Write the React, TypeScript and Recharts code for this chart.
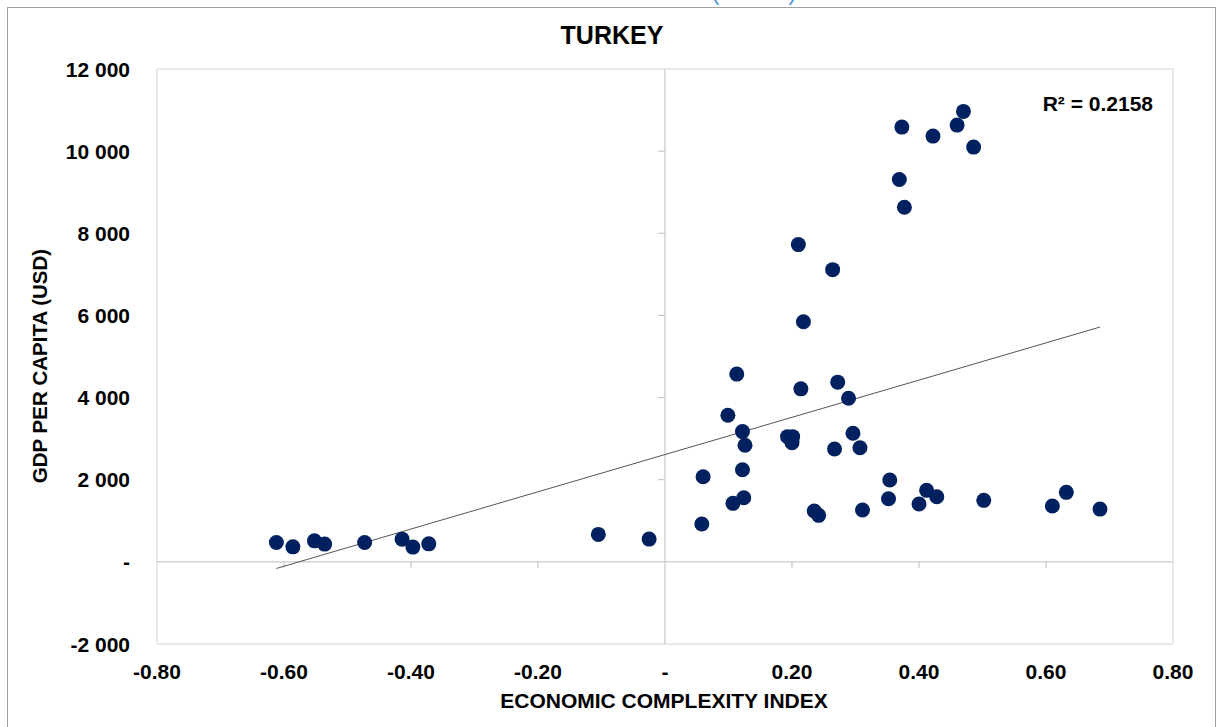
import {
  ReferenceArea,
  ReferenceLine,
  Scatter,
  ScatterChart,
  XAxis,
  YAxis,
} from "recharts";

const ECI = [
  -0.612, -0.586, -0.552, -0.536, -0.473, -0.414, -0.397, -0.372, -0.105, -0.025,
  0.113, 0.099, 0.122, 0.126, 0.122, 0.06, 0.124, 0.107, 0.058,
  0.214, 0.272, 0.289, 0.193, 0.201, 0.2, 0.296, 0.267, 0.307,
  0.235, 0.242, 0.311, 0.354, 0.352, 0.4, 0.412, 0.428, 0.502, 0.61, 0.632, 0.685,
  0.373, 0.422, 0.46, 0.47, 0.486, 0.369, 0.377,
  0.21, 0.264, 0.218,
];

const GDP = [
  473, 366, 512, 432, 473, 553, 359, 439, 668, 554,
  4571, 3571, 3171, 2839, 2244, 2073, 1561, 1424, 920,
  4212, 4376, 3985, 3049, 3049, 2902, 3132, 2749, 2780,
  1237, 1132, 1261, 1993, 1537, 1407, 1741, 1585, 1498, 1359, 1693, 1285,
  10585, 10366, 10634, 10968, 10098, 9310, 8634,
  7724, 7115, 5846,
];

// trend line endpoints
const TREND_X = [-0.612, 0.685];
const TREND_Y = [-161, 5717];

const X_TICKS = [-0.8, -0.6, -0.4, -0.2, 0, 0.2, 0.4, 0.6, 0.8];
const Y_TICKS = [-2000, 0, 2000, 4000, 6000, 8000, 10000, 12000];

const W = 1222;
const H = 727;
const MARGIN = { top: 69, right: 49, bottom: 0, left: 0 };
const Y_AXIS_W = 157;
const X_AXIS_H = 83;
const PLOT_W = W - MARGIN.right - Y_AXIS_W;
const PLOT_H = H - MARGIN.top - X_AXIS_H;
const FONT = "'Liberation Sans', Arial, sans-serif";
const DOT = "#00215f";

// small tick marks sitting on the zero lines (px converted to data units)
const TICK_X_LEN = (1.6 / PLOT_W) * 7;
const TICK_Y_LEN = (14000 / PLOT_H) * 6;

const points = ECI.map((x, i) => ({ x, y: GDP[i] }));

const fmtX = (v: number) => (v === 0 ? "-" : v.toFixed(2));
const fmtY = (v: number) =>
  v === 0 ? "-" : (v < 0 ? "-" : "") + Math.abs(v).toLocaleString("en-US").replace(",", " ");

function XTick({ x, y, payload }: any) {
  return (
    <text x={x} y={y + 35} textAnchor="middle" fontFamily={FONT} fontWeight="bold" fontSize={21} fill="#000">
      {fmtX(payload.value)}
    </text>
  );
}

function YTick({ x, y, payload }: any) {
  return (
    <text x={x - 27} y={y} dy="0.36em" textAnchor="end" fontFamily={FONT} fontWeight="bold" fontSize={21} fill="#000">
      {fmtY(payload.value)}
    </text>
  );
}

const Dot = (props: any) => <circle cx={props.cx} cy={props.cy} r={7.5} fill={DOT} />;

export default function App() {
  return (
    <div style={{ position: "fixed", left: 0, top: 0, width: W, height: H, background: "#fff", overflow: "hidden" }}>
      <div
        style={{
          position: "absolute",
          left: 7,
          top: 7,
          width: 1209,
          height: 740,
          border: "1.5px solid #a0a0a0",
          boxSizing: "border-box",
        }}
      />
      <ScatterChart width={W} height={H} margin={MARGIN}>
        <XAxis
          type="number"
          dataKey="x"
          domain={[-0.8, 0.8]}
          ticks={X_TICKS}
          height={X_AXIS_H}
          axisLine={false}
          tickLine={false}
          tickSize={0}
          tickMargin={0}
          tick={<XTick />}
          interval={0}
        />
        <YAxis
          type="number"
          dataKey="y"
          domain={[-2000, 12000]}
          ticks={Y_TICKS}
          width={Y_AXIS_W}
          axisLine={false}
          tickLine={false}
          tickSize={0}
          tickMargin={0}
          tick={<YTick />}
          interval={0}
        />
        <ReferenceArea x1={-0.8} x2={0.8} y1={-2000} y2={12000} fill="none" stroke="#d4d4d4" strokeWidth={1} />
        <ReferenceLine x={0} stroke="#bdbdbd" strokeWidth={1} />
        <ReferenceLine y={0} stroke="#bdbdbd" strokeWidth={1} />
        {X_TICKS.filter((t) => t !== 0 && Math.abs(t) < 0.8).map((t) => (
          <ReferenceLine
            key={"xt" + t}
            segment={[
              { x: t, y: 0 },
              { x: t, y: -TICK_Y_LEN },
            ]}
            stroke="#bdbdbd"
          />
        ))}
        {Y_TICKS.filter((t) => t !== 0 && t < 12000 && t > -2000).map((t) => (
          <ReferenceLine
            key={"yt" + t}
            segment={[
              { x: 0, y: t },
              { x: -TICK_X_LEN, y: t },
            ]}
            stroke="#bdbdbd"
          />
        ))}
        <ReferenceLine
          segment={[
            { x: TREND_X[0], y: TREND_Y[0] },
            { x: TREND_X[1], y: TREND_Y[1] },
          ]}
          stroke="#555"
          strokeWidth={1}
        />
        <Scatter data={points} shape={Dot} isAnimationActive={false} />
      </ScatterChart>
      <svg width={W} height={H} style={{ position: "absolute", left: 0, top: 0, pointerEvents: "none" }}>
        <text x={797} y={0} textAnchor="end" fontFamily={FONT} fontSize={26} fill="#5b9bd5">
          ECONOMIC COMPLEXITY AND GDP PER CAPITA (cont'd)
        </text>
        <text x={612} y={44} textAnchor="middle" fontFamily={FONT} fontWeight="bold" fontSize={25} fill="#000">
          TURKEY
        </text>
        <text x={1153} y={111} textAnchor="end" fontFamily={FONT} fontWeight="bold" fontSize={21} fill="#000">
          R² = 0.2158
        </text>
        <text x={664} y={708} textAnchor="middle" fontFamily={FONT} fontWeight="bold" fontSize={21} fill="#000">
          ECONOMIC COMPLEXITY INDEX
        </text>
        <text
          x={0}
          y={0}
          transform="translate(47 366) rotate(-90)"
          textAnchor="middle"
          fontFamily={FONT}
          fontWeight="bold"
          fontSize={20.5}
          fill="#000"
        >
          GDP PER CAPITA (USD)
        </text>
      </svg>
    </div>
  );
}
